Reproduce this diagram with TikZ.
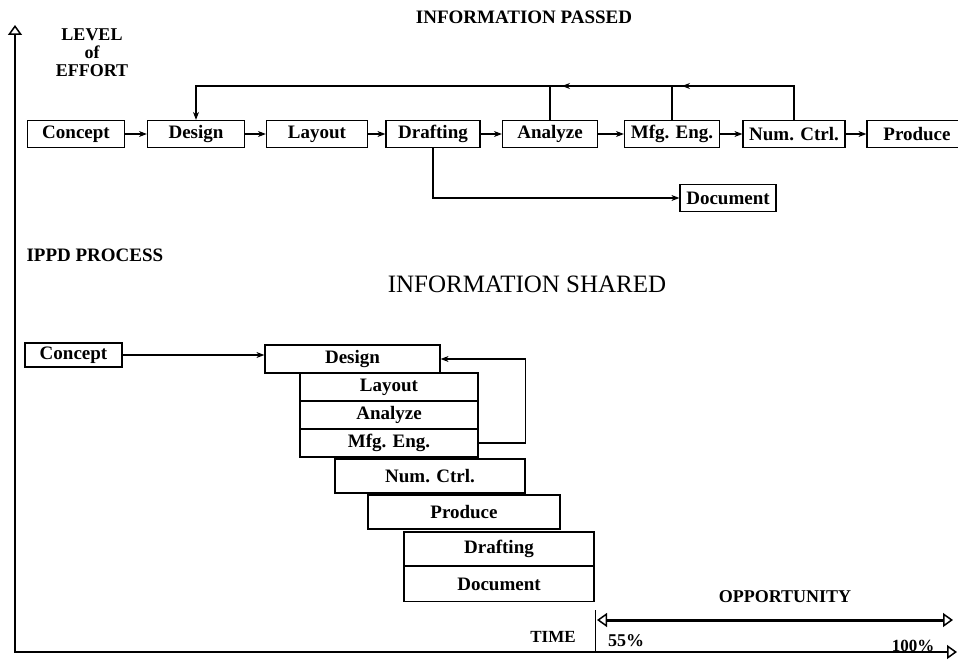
\documentclass[tikz,border=0pt]{standalone}
\usepackage{fontspec}
\setmainfont{Liberation Serif}
\usetikzlibrary{arrows.meta,positioning,calc}

\tikzset{%
		every stage/.style={
			rectangle,
			draw,
			line width=1.2pt,
			inner sep=0pt,
			minimum height=27pt,
			font=\fontsize{19}{19}\selectfont\bfseries
		},
		link/.style={
			line width=1.2pt,
			-{Stealth[length=8pt,width=6pt]}
		},
		axis line/.style={
			line width=1.5pt
		},
		big label/.style={
			align=center,
			font=\fontsize{19}{17}\selectfont\bfseries
		},
	}

\begin{document}
\begin{tikzpicture}[x=1pt, y=-1pt]
			\useasboundingbox (0,0) rectangle (958,666);
			
			% draw stages of the passed process
			\foreach \m/\l/\x/\w in {concept/Concept/76/97, design/Design/196/97, layout/Layout/317/101, drafting/Drafting/433/94, analyze/Analyze/550/95, mfg/Mfg. Eng./672/95, numctrl/Num. Ctrl./794/102, produce/Produce/917/100}
			\node [every stage, minimum width=\w pt] (pass-\m) at (\x,134) {\l};
			\node [every stage, minimum width=96pt] (pass-document) at (728,198) {Document};
			
			% arrows between passed stages
			\foreach \a/\b in {concept/design, design/layout, layout/drafting, drafting/analyze, analyze/mfg, mfg/numctrl, numctrl/produce}
			\draw [link] (pass-\a) -- (pass-\b);
			\draw [link] (pass-drafting.south) |- (pass-document);
			
			% return line to design
			\coordinate (top-line) at (0,86);
			\draw [link] (pass-numctrl.north) |- (pass-design.north |- top-line) -- (pass-design.north);
			\foreach \m in {analyze,mfg}
			\draw [line width=1.2pt] (pass-\m.north) -- (pass-\m.north |- top-line);
			\draw [link] ($(pass-mfg.north |- top-line)+(40,0)$) -- ($(pass-mfg.north |- top-line)+(10,0)$);
			\draw [link] ($(pass-analyze.north |- top-line)+(40,0)$) -- ($(pass-analyze.north |- top-line)+(12,0)$);
			
			% draw stages of the shared process
			\node [every stage, minimum width=97pt, minimum height=24pt] (share-concept) at (73.5,355) {Concept};
			\foreach \m/\l/\x/\y/\w/\h in {design/Design/352.5/359/175/28, layout/Layout/389/387/178/28, analyze/Analyze/389/415/178/28, mfg/Mfg. Eng./389/443/178/28, numctrl/Num. Ctrl./430/476/190/34, produce/Produce/464/512/192/34, drafting/Drafting/499/549/190/34, document/Document/499/584/190/35}
			\node [every stage, minimum width=\w pt, minimum height=\h pt] (share-\m) at (\x,\y) {\l};
			
			\draw [link] (share-concept.east) -- (share-concept.east -| share-design.west);
			\draw [link] (share-mfg.east) -- ++(47,0) |- (share-design.east);
			
			% axes
			\coordinate (origin) at (15,652);
			\coordinate (effort-end) at (15,25);
			\coordinate (time-end) at (957,652);
			\draw [axis line, {Triangle[open,length=10pt,width=14pt,line width=1.5pt]}-{Triangle[open,length=10pt,width=14pt,line width=1.5pt]}] (effort-end) -- (origin) -- (time-end);
			
			% opportunity
			\coordinate (opp-start) at (597,620);
			\coordinate (opp-end) at (953,620);
			\coordinate (tick-top) at (595,610);
			\draw [line width=3pt, {Triangle[open,length=10pt,width=14pt,line width=1.5pt]}-{Triangle[open,length=10pt,width=14pt,line width=1.5pt]}] (opp-start) -- (opp-end);
			\draw [line width=1pt] (tick-top) -- (tick-top |- origin);
			
			% annotate
			\node [big label, font=\fontsize{18}{18}\selectfont\bfseries] (effort) at (92,53) {LEVEL\\of\\EFFORT};
			\node [big label] (passed) at (524,17) {INFORMATION PASSED};
			\node [big label, anchor=west] (ippd) at (23,255) {IPPD PROCESS};
			\node [font=\fontsize{25}{25}\selectfont] (shared) at (527,284) {INFORMATION SHARED};
			\node [big label, font=\fontsize{18}{18}\selectfont\bfseries] (opportunity) at (785,597) {OPPORTUNITY};
			\node [big label, font=\fontsize{17}{17}\selectfont\bfseries] (time) at (553,637) {TIME};
			\node [big label, font=\fontsize{18}{18}\selectfont\bfseries] (low) at (626,641) {55\%};
			\node [big label, font=\fontsize{17}{17}\selectfont\bfseries] (high) at (913,646) {100\%};
			\end{tikzpicture}
\end{document}
